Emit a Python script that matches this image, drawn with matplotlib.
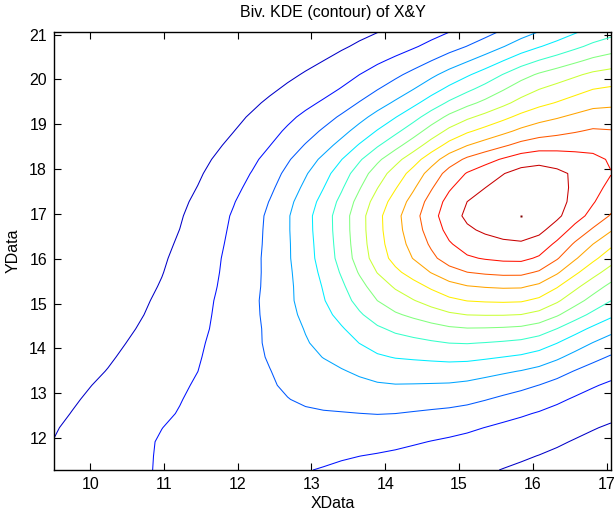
import numpy as np
import matplotlib.pyplot as plt
from matplotlib.colors import LinearSegmentedColormap

plt.rcParams['font.family'] = ['Liberation Sans', 'DejaVu Sans']

# observation weights binned on a unit lattice (rows follow y_nodes, columns follow x_nodes)
x_nodes = [9, 10, 11, 12, 13, 14, 15, 16, 17, 18]
y_nodes = [10, 11, 12, 13, 14, 15, 16, 17, 18, 19, 20, 21, 22]
counts = [
    [0.75, 1.20, 1.70, 1.60, 1.00, 0.60, 0.45, 0.28, 0.10, 0.05],
    [0.80, 1.45, 2.20, 2.30, 1.85, 1.25, 1.05, 0.60, 0.30, 0.15],
    [0.70, 1.35, 2.15, 2.50, 2.50, 2.30, 1.75, 1.25, 0.70, 0.40],
    [0.45, 1.00, 1.75, 2.60, 3.27, 3.70, 3.55, 2.55, 1.45, 1.00],
    [0.25, 0.70, 1.35, 2.50, 3.95, 5.35, 5.60, 5.30, 3.00, 2.00],
    [0.15, 0.45, 1.05, 2.40, 4.40, 7.20, 8.80, 9.15, 5.80, 3.70],
    [0.08, 0.30, 0.80, 2.25, 4.40, 9.25, 12.1, 12.8, 8.10, 5.80],
    [0.04, 0.18, 0.55, 2.05, 4.80, 9.30, 13.6, 14.85, 11.3, 7.80],
    [0.02, 0.10, 0.30, 1.45, 3.85, 7.80, 12.1, 14.0, 12.75, 9.10],
    [0.01, 0.05, 0.15, 0.78, 2.45, 4.60, 8.20, 9.60, 11.3, 9.40],
    [0.00, 0.025, 0.07, 0.40, 1.00, 2.60, 4.75, 7.60, 8.90, 8.50],
    [0.00, 0.01, 0.03, 0.18, 0.38, 0.88, 1.90, 3.70, 5.80, 6.70],
    [0.00, 0.00, 0.01, 0.06, 0.13, 0.35, 0.80, 1.75, 3.25, 4.50],
]
bandwidth = 0.55
x_range = (9.51, 17.06)
y_range = (11.29, 21.05)
n_levels = 13

# MATLAB style jet
jet_ml = LinearSegmentedColormap('jet_ml', {
    'red':   [(0, 0, 0), (3 / 8, 0, 0), (5 / 8, 1, 1), (7 / 8, 1, 1), (1, 0.5, 0.5)],
    'green': [(0, 0, 0), (1 / 8, 0, 0), (3 / 8, 1, 1), (5 / 8, 1, 1), (7 / 8, 0, 0), (1, 0, 0)],
    'blue':  [(0, 0.5, 0.5), (1 / 8, 1, 1), (3 / 8, 1, 1), (5 / 8, 0, 0), (1, 0, 0)],
})


def kde_grid(n=32):
    gx = np.linspace(x_range[0], x_range[1], n)
    gy = np.linspace(y_range[0], y_range[1], n)
    X, Y = np.meshgrid(gx, gy)
    Z = np.zeros_like(X)
    for j, yc in enumerate(y_nodes):
        for i, xc in enumerate(x_nodes):
            w = counts[j][i]
            Z += w * np.exp(-((X - xc) ** 2 + (Y - yc) ** 2) / (2 * bandwidth ** 2))
    return X, Y, Z


X, Y, Z = kde_grid()
zmin, zmax = Z.min(), Z.max()
levels = np.linspace(zmin, zmax, n_levels + 2)[1:-1]

fig = plt.figure(figsize=(6.14, 5.17), dpi=100)
ax = fig.add_axes([0.088, 0.0909, 0.907, 0.8466])
ax.contour(X, Y, Z, levels=levels, cmap=jet_ml, vmin=zmin, vmax=zmax, linewidths=0.75)

# the top level collapses to the single peak node
k = np.unravel_index(np.argmax(Z), Z.shape)
ax.plot(X[k], Y[k], 's', ms=1.5, color=jet_ml(1.0), mec='none')

ax.set_xlim(*x_range)
ax.set_ylim(*y_range)
ax.set_xticks([10, 11, 12, 13, 14, 15, 16, 17])
ax.set_yticks([12, 13, 14, 15, 16, 17, 18, 19, 20, 21])
ax.tick_params(direction='in', top=True, right=True, length=5, labelsize=11.5, pad=5)
for s in ax.spines.values():
    s.set_linewidth(1.0)
ax.set_title('Biv. KDE (contour) of X&Y', fontsize=11.5, pad=11)
ax.set_xlabel('XData', fontsize=11.5, labelpad=3)
ax.set_ylabel('YData', fontsize=11.5, labelpad=6)

fig.savefig('out.png', dpi=100)
